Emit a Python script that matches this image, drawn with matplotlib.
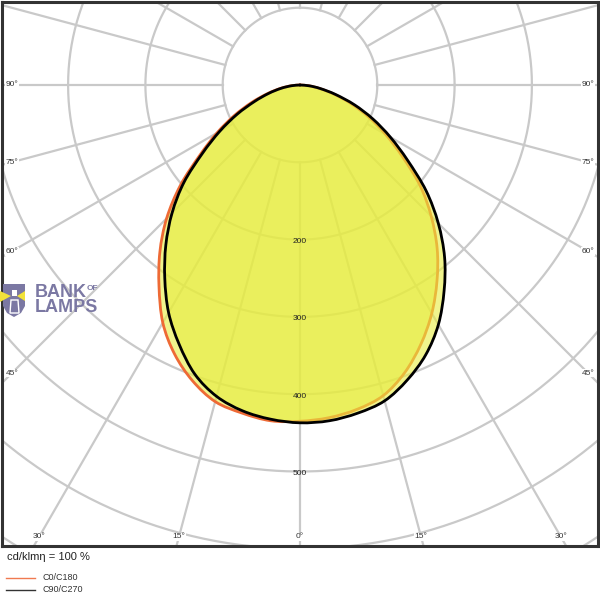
import numpy as np
import matplotlib
matplotlib.use("Agg")
import matplotlib.pyplot as plt
from matplotlib.lines import Line2D
from matplotlib.patches import Polygon, PathPatch
from matplotlib.path import Path

plt.rcParams['font.family'] = ['Liberation Sans', 'DejaVu Sans']

# ---- data (cd/klm) ----
gamma = [0, 5, 10, 15, 20, 25, 30, 35, 40, 45, 50, 55, 60, 65, 70, 75, 80, 85, 90]
c0   = [435, 432, 426, 416, 396, 370, 341, 309, 276, 240, 203, 162, 128, 98, 70, 45, 25, 11, 0]
c180 = [435, 436, 431, 424, 407, 384, 355, 318, 282, 244, 202, 158, 124, 94, 67, 44, 26, 11, 0]
c90  = [437, 436, 431, 423, 406, 385, 358, 325, 291, 253, 213, 170, 135, 104, 75, 48, 27, 12, 0]
c270 = [437, 434, 428, 417, 398, 370, 340, 305, 270, 234, 196, 154, 120, 90, 63, 42, 25, 11, 0]
ring_values = [100, 200, 300, 400, 500, 600, 700, 800]
ring_labels = [200, 300, 400, 500]
side_angles = [90, 75, 60, 45]
bottom_angles = [-30, -15, 0, 15, 30]
legend_labels = ['C0/C180', 'C90/C270']
unit_text = 'cd/klmη = 100 %'

# ---- geometry ----
W = H = 600
S = 0.773            # px per cd
cx_px, cy_px = 300, 85
ax_left_px, ax_right_px = 1.8, 598.2
ax_top_px, ax_bot_px = 2, 546

fig = plt.figure(figsize=(6, 6), dpi=100)
ax = fig.add_axes([ax_left_px / W, 1 - ax_bot_px / H,
                   (ax_right_px - ax_left_px) / W, (ax_bot_px - ax_top_px) / H])
ax.set_xlim((ax_left_px - cx_px) / S, (ax_right_px - cx_px) / S)
ax.set_ylim(-(ax_bot_px - cy_px) / S, (cy_px - ax_top_px) / S)
ax.set_xticks([]); ax.set_yticks([])
for sp in ax.spines.values():
    sp.set_color('#333333')
    sp.set_linewidth(2.2)
    sp.set_zorder(20)

grid_c = '#c9c9c9'
t = np.linspace(0, 2 * np.pi, 721)
for v in ring_values:
    ax.plot(v * np.cos(t), v * np.sin(t), color=grid_c, lw=1.6, zorder=1)
for a in range(0, 360, 15):
    r = np.radians(a)
    ax.plot([100 * np.sin(r), 1200 * np.sin(r)], [-100 * np.cos(r), -1200 * np.cos(r)],
            color=grid_c, lw=1.6, zorder=1)

g = np.radians(np.array(gamma, dtype=float))

def loop_points(right, left):
    right = np.array(right, float); left = np.array(left, float)
    xr = right * np.sin(g); yr = -right * np.cos(g)
    xl = -left * np.sin(g); yl = -left * np.cos(g)
    # apex -> right side down to 0 deg -> left side up to apex
    x = np.concatenate([xr[::-1], xl[1:]])
    y = np.concatenate([yr[::-1], yl[1:]])
    return np.column_stack([x, y])

def smooth_open_path(pts, close=False):
    n = len(pts)
    ext = np.vstack([2 * pts[0] - pts[1], pts, 2 * pts[-1] - pts[-2]])
    verts = [pts[0]]
    codes = [Path.MOVETO]
    for i in range(1, n):
        p0, p1, p2, p3 = ext[i - 1], ext[i], ext[i + 1], ext[i + 2]
        c1 = p1 + (p2 - p0) / 6.0
        c2 = p2 - (p3 - p1) / 6.0
        verts += [c1, c2, p2]
        codes += [Path.CURVE4] * 3
    if close:
        verts.append(pts[0]); codes.append(Path.CLOSEPOLY)
    return Path(np.array(verts), codes)

fill_c = (231 / 255, 237 / 255, 63 / 255)
pts1 = loop_points(c0, c180)
pts2 = loop_points(c90, c270)
ax.add_patch(PathPatch(smooth_open_path(pts1, True), fc=fill_c, alpha=0.6, lw=0, zorder=2))
ax.add_patch(PathPatch(smooth_open_path(pts1), fc='none', ec='#ee6a35', lw=2.0, zorder=3,
                       joinstyle='round', capstyle='round'))
ax.add_patch(PathPatch(smooth_open_path(pts2, True), fc=fill_c, alpha=0.6, lw=0, zorder=4))
ax.add_patch(PathPatch(smooth_open_path(pts2), fc='none', ec='#000000', lw=2.0, zorder=5,
                       joinstyle='round', capstyle='round'))

# ring labels
for v in ring_labels:
    ax.text(0, -v - 2 / S, str(v), ha='center', va='center', fontsize=6,
            color='#222222', zorder=8)

# side angle labels
xs = (cx_px - 12) / S
for a in side_angles:
    r = np.radians(a)
    y = -xs / np.tan(r) if a != 90 else 0.0
    for sgn in (-1, 1):
        ax.text(sgn * xs, y, f'{a}°', ha='center', va='center', fontsize=6,
                color='#333333', zorder=9,
                bbox=dict(fc='white', ec='none', pad=0.6))
# bottom angle labels
yb = -(537 - cy_px) / S
for a in bottom_angles:
    r = np.radians(a)
    ax.text(-yb * np.tan(r), yb, f'{abs(a)}°', ha='center', va='center', fontsize=6,
            color='#333333', zorder=9,
            bbox=dict(fc='white', ec='none', pad=0.6))

# ---- logo (watermark) ----
def P(x, y):
    return (x / W, 1 - y / H)

logo_c = '#7b78a3'
shield = Polygon([P(3, 284), P(25, 284), P(25, 306), P(21, 313), P(14, 317),
                  P(7, 313), P(3, 306)], closed=True, transform=fig.transFigure,
                 fc=logo_c, ec='none', zorder=30)
fig.add_artist(shield)
for tri in ([P(0, 291), P(11, 296), P(0, 302)], [P(25, 291), P(17, 296), P(25, 301)]):
    fig.add_artist(Polygon(tri, closed=True, transform=fig.transFigure,
                           fc='#f2e23a', ec='none', zorder=31))
fig.add_artist(Polygon([P(11, 300), P(18, 300), P(19, 313), P(10, 313)], closed=True,
                       transform=fig.transFigure, fc='none', ec='white', lw=1, zorder=32))
fig.add_artist(Polygon([P(12, 290), P(17, 290), P(17, 296), P(12, 296)], closed=True,
                       transform=fig.transFigure, fc='white', ec='none', zorder=32))
fig.text(35 / W, 1 - 292.5 / H, 'BANK', fontsize=13, fontweight='bold', color=logo_c,
         ha='left', va='center', zorder=33)
fig.text(87 / W, 1 - 289 / H, 'OF', fontsize=6, fontweight='bold', color=logo_c,
         ha='left', va='center', zorder=33)
fig.text(35 / W, 1 - 308 / H, 'LAMPS', fontsize=13, fontweight='bold', color=logo_c,
         ha='left', va='center', zorder=33)

# ---- footer ----
fig.text(7 / W, 1 - 557 / H, unit_text, fontsize=8, color='#222222', ha='left', va='center')
leg_colors = ['#f07a50', '#333333']
leg_y = [578, 590]
for lab, col, yy in zip(legend_labels, leg_colors, leg_y):
    fig.add_artist(Line2D([6 / W, 35 / W], [1 - yy / H, 1 - yy / H], color=col, lw=1,
                          transform=fig.transFigure))
    fig.text(42 / W, 1 - yy / H, lab, fontsize=6.5, color='#333333', ha='left', va='center')

fig.savefig('out.png', dpi=100)
